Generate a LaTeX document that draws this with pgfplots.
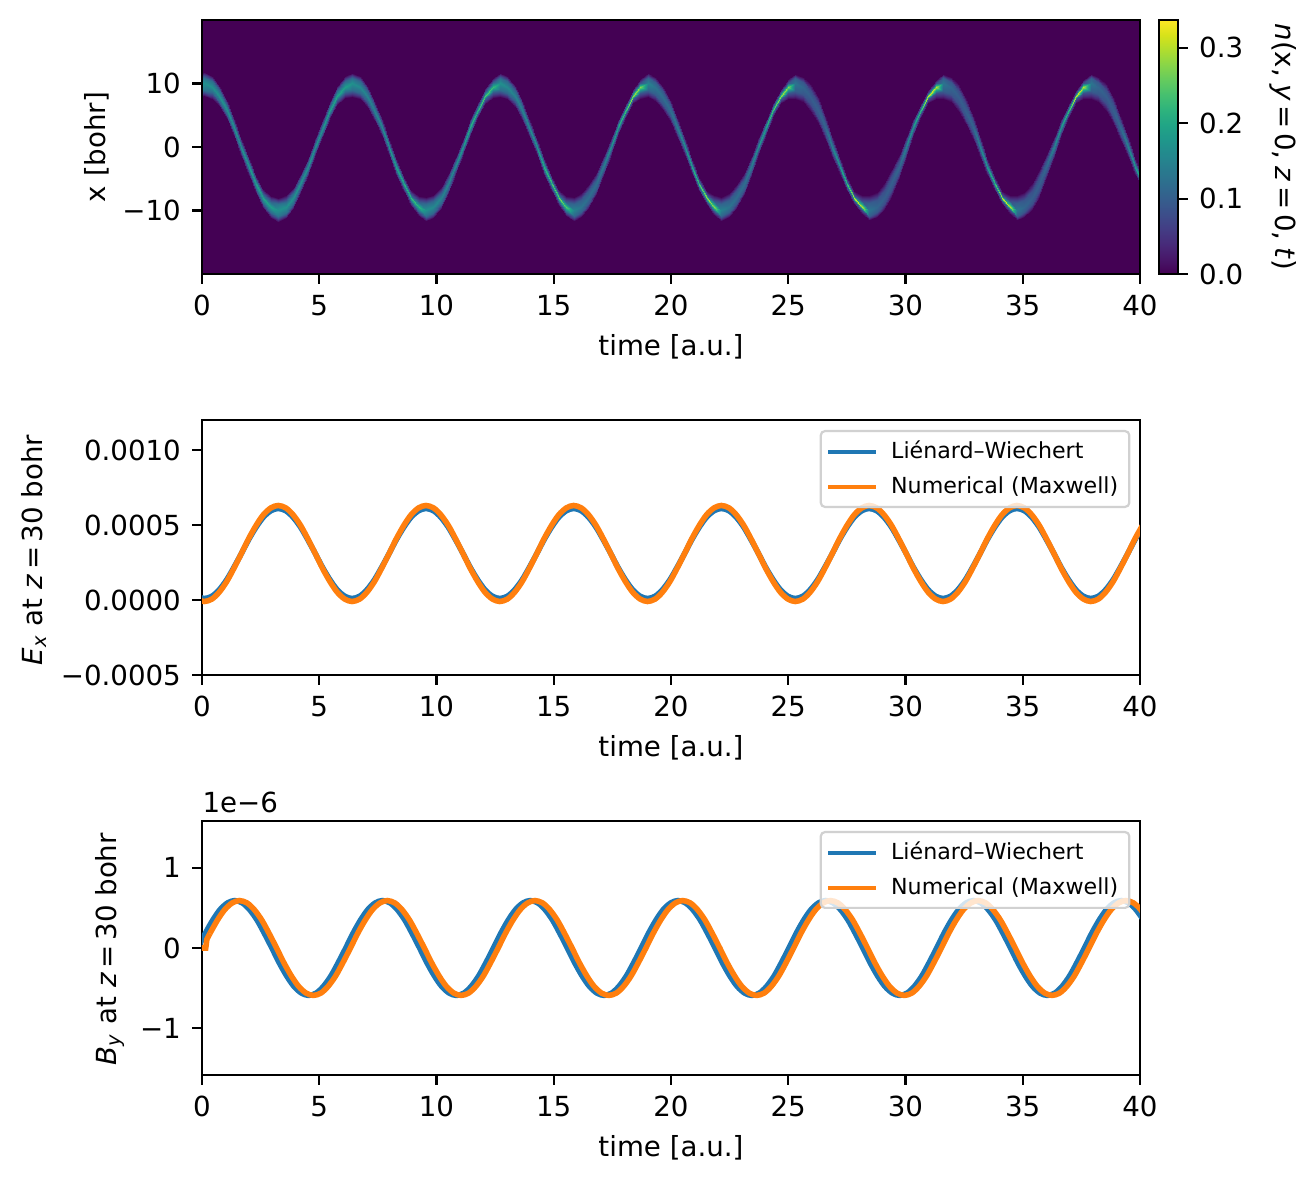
\documentclass[border=0pt]{standalone}
\usepackage{fontspec}
\setmainfont{DejaVu Sans}
\usepackage{pgfplots}
\usepackage{pgfplotstable}
\pgfplotsset{compat=1.18}
\definecolor{mplblue}{HTML}{1F77B4}
\definecolor{mplorange}{HTML}{FF7F0E}
\definecolor{vbg}{HTML}{440154}
\pgfplotsset{
  panel/.style={
    scale only axis, width=337.68bp, xmin=0, xmax=40,
    clip mode=individual,
    xtick={0,5,...,40},
    xticklabels={0,5,10,15,20,25,30,35,40},
    tick align=outside, xtick pos=bottom, ytick pos=left,
    major tick length=3.5bp,
    every tick/.style={black,line width=0.8bp},
    axis line style={line width=0.8bp},
    xlabel={time [a.u.]},
    scaled ticks=false,
    xticklabel style={yshift=-0.6bp},
    yticklabel style={xshift=-0.6bp},
  },
  mpl legend/.style={
    legend style={at={(0.98977,0.9608)},anchor=north east,
      font=\fontsize{8}{9.6}\selectfont,draw=black!18,fill=white,fill opacity=0.8,
      text opacity=1,rounded corners=1.5bp,line width=0.8bp,
      row sep=0.9bp,inner xsep=2bp,inner ysep=1.5bp},
    legend cell align=left,
    legend image code/.code={\draw[##1] (0cm,0cm) -- (0.6cm,0cm); \path (0.7cm,0cm);},
  },
}
% E_x at z=30, y in units of 1e-4
\pgfplotstableread{
t blue orange
-0.22 0.247 0.057
0.10 0.100 -0.100
0.42 0.247 0.057
0.73 0.673 0.511
1.05 1.337 1.219
1.36 2.173 2.111
1.68 3.100 3.100
1.99 4.027 4.089
2.31 4.863 4.981
2.62 5.527 5.689
2.94 5.953 6.143
3.25 6.100 6.300
3.57 5.953 6.143
3.88 5.527 5.689
4.20 4.863 4.981
4.51 4.027 4.089
4.83 3.100 3.100
5.14 2.173 2.111
5.46 1.337 1.219
5.77 0.673 0.511
6.09 0.247 0.057
6.40 0.100 -0.100
6.72 0.247 0.057
7.03 0.673 0.511
7.35 1.337 1.219
7.66 2.173 2.111
7.98 3.100 3.100
8.29 4.027 4.089
8.61 4.863 4.981
8.92 5.527 5.689
9.24 5.953 6.143
9.55 6.100 6.300
9.87 5.953 6.143
10.18 5.527 5.689
10.50 4.863 4.981
10.81 4.027 4.089
11.13 3.100 3.100
11.44 2.173 2.111
11.76 1.337 1.219
12.07 0.673 0.511
12.39 0.247 0.057
12.70 0.100 -0.100
13.02 0.247 0.057
13.33 0.673 0.511
13.65 1.337 1.219
13.96 2.173 2.111
14.28 3.100 3.100
14.59 4.027 4.089
14.91 4.863 4.981
15.22 5.527 5.689
15.54 5.953 6.143
15.85 6.100 6.300
16.17 5.953 6.143
16.48 5.527 5.689
16.80 4.863 4.981
17.11 4.027 4.089
17.43 3.100 3.100
17.74 2.173 2.111
18.06 1.337 1.219
18.37 0.673 0.511
18.69 0.247 0.057
19.00 0.100 -0.100
19.32 0.247 0.057
19.63 0.673 0.511
19.95 1.337 1.219
20.26 2.173 2.111
20.58 3.100 3.100
20.89 4.027 4.089
21.21 4.863 4.981
21.52 5.527 5.689
21.84 5.953 6.143
22.15 6.100 6.300
22.47 5.953 6.143
22.78 5.527 5.689
23.10 4.863 4.981
23.41 4.027 4.089
23.73 3.100 3.100
24.04 2.173 2.111
24.36 1.337 1.219
24.67 0.673 0.511
24.99 0.247 0.057
25.30 0.100 -0.100
25.62 0.247 0.057
25.93 0.673 0.511
26.25 1.337 1.219
26.56 2.173 2.111
26.88 3.100 3.100
27.19 4.027 4.089
27.51 4.863 4.981
27.82 5.527 5.689
28.14 5.953 6.143
28.45 6.100 6.300
28.77 5.953 6.143
29.08 5.527 5.689
29.40 4.863 4.981
29.71 4.027 4.089
30.03 3.100 3.100
30.34 2.173 2.111
30.66 1.337 1.219
30.97 0.673 0.511
31.29 0.247 0.057
31.60 0.100 -0.100
31.92 0.247 0.057
32.23 0.673 0.511
32.55 1.337 1.219
32.86 2.173 2.111
33.18 3.100 3.100
33.49 4.027 4.089
33.81 4.863 4.981
34.12 5.527 5.689
34.44 5.953 6.143
34.75 6.100 6.300
35.07 5.953 6.143
35.38 5.527 5.689
35.70 4.863 4.981
36.01 4.027 4.089
36.33 3.100 3.100
36.64 2.173 2.111
36.96 1.337 1.219
37.27 0.673 0.511
37.59 0.247 0.057
37.90 0.100 -0.100
38.22 0.247 0.057
38.53 0.673 0.511
38.85 1.337 1.219
39.16 2.173 2.111
39.48 3.100 3.100
39.79 4.027 4.089
40.11 4.863 4.981
}\extable
% B_y at z=30, y in units of 1e-6
\pgfplotstableread{
tb to v
-0.18 0.02 0.000
0.14 0.34 0.182
0.46 0.66 0.347
0.77 0.97 0.477
1.09 1.29 0.561
1.40 1.60 0.590
1.72 1.92 0.561
2.03 2.23 0.477
2.35 2.55 0.347
2.66 2.86 0.182
2.98 3.18 0.000
3.29 3.49 -0.182
3.61 3.81 -0.347
3.92 4.12 -0.477
4.24 4.44 -0.561
4.55 4.75 -0.590
4.87 5.07 -0.561
5.18 5.38 -0.477
5.50 5.70 -0.347
5.81 6.01 -0.182
6.13 6.33 0.000
6.44 6.64 0.182
6.76 6.96 0.347
7.07 7.27 0.477
7.39 7.59 0.561
7.70 7.90 0.590
8.02 8.22 0.561
8.33 8.53 0.477
8.65 8.85 0.347
8.96 9.16 0.182
9.28 9.48 0.000
9.59 9.79 -0.182
9.91 10.11 -0.347
10.22 10.42 -0.477
10.54 10.74 -0.561
10.85 11.05 -0.590
11.17 11.37 -0.561
11.48 11.68 -0.477
11.80 12.00 -0.347
12.11 12.31 -0.182
12.43 12.63 0.000
12.74 12.94 0.182
13.06 13.26 0.347
13.37 13.57 0.477
13.69 13.89 0.561
14.00 14.20 0.590
14.32 14.52 0.561
14.63 14.83 0.477
14.95 15.15 0.347
15.26 15.46 0.182
15.58 15.78 0.000
15.89 16.09 -0.182
16.21 16.41 -0.347
16.52 16.72 -0.477
16.84 17.04 -0.561
17.15 17.35 -0.590
17.47 17.67 -0.561
17.78 17.98 -0.477
18.10 18.30 -0.347
18.41 18.61 -0.182
18.73 18.93 0.000
19.04 19.24 0.182
19.36 19.56 0.347
19.67 19.87 0.477
19.99 20.19 0.561
20.30 20.50 0.590
20.62 20.82 0.561
20.93 21.13 0.477
21.25 21.45 0.347
21.56 21.76 0.182
21.88 22.08 0.000
22.19 22.39 -0.182
22.51 22.71 -0.347
22.82 23.02 -0.477
23.14 23.34 -0.561
23.45 23.65 -0.590
23.77 23.97 -0.561
24.08 24.28 -0.477
24.40 24.60 -0.347
24.71 24.91 -0.182
25.03 25.23 0.000
25.34 25.54 0.182
25.66 25.86 0.347
25.97 26.17 0.477
26.29 26.49 0.561
26.60 26.80 0.590
26.92 27.12 0.561
27.23 27.43 0.477
27.55 27.75 0.347
27.86 28.06 0.182
28.18 28.38 0.000
28.49 28.69 -0.182
28.81 29.01 -0.347
29.12 29.32 -0.477
29.44 29.64 -0.561
29.75 29.95 -0.590
30.07 30.27 -0.561
30.38 30.58 -0.477
30.70 30.90 -0.347
31.01 31.21 -0.182
31.33 31.53 0.000
31.64 31.84 0.182
31.96 32.16 0.347
32.27 32.47 0.477
32.59 32.79 0.561
32.90 33.10 0.590
33.22 33.42 0.561
33.53 33.73 0.477
33.85 34.05 0.347
34.16 34.36 0.182
34.48 34.68 0.000
34.79 34.99 -0.182
35.11 35.31 -0.347
35.42 35.62 -0.477
35.74 35.94 -0.561
36.05 36.25 -0.590
36.37 36.57 -0.561
36.68 36.88 -0.477
37.00 37.20 -0.347
37.31 37.51 -0.182
37.63 37.83 0.000
37.94 38.14 0.182
38.26 38.46 0.347
38.57 38.77 0.477
38.89 39.09 0.561
39.20 39.40 0.590
39.52 39.72 0.561
39.83 40.03 0.477
40.15 40.35 0.347
}\bytable
\begin{document}
\begin{tikzpicture}
\useasboundingbox (0,0) rectangle (473.76bp,425.52bp);

% density panel: the ridge is a strip of five samples across for each time
\begin{axis}[panel, at={(72.72bp,326.88bp)}, anchor=south west, height=91.44bp,
  ymin=-20, ymax=20, ytick={-10,0,10}, yticklabels={−10,0,10},
  axis on top, axis background/.style={fill=vbg},
  xlabel style={at={(axis description cs:0.5,-0.285)},anchor=center},
  ylabel={x [bohr]},
  ylabel style={at={(axis description cs:-0.1119,0.5)},anchor=center},
  colormap name=viridis, point meta min=0, point meta max=0.337,
  colorbar,
  colorbar style={at={(1.0203,1)},anchor=north west,width=6.84bp,height=91.44bp,
    ytick={0,0.1,0.2,0.3},yticklabels={0.0,0.1,0.2,0.3},
    ytick pos=right,yticklabel pos=right,xtick=\empty,
    major tick length=3.5bp,tick align=outside,
    every tick/.style={black,line width=0.8bp},
    axis line style={line width=0.8bp},
    yticklabel style={xshift=0.6bp}},
]
\addplot[surf,shader=interp,mesh/cols=5,point meta=\thisrow{m}] table[row sep=crcr] {
t x m\\
-0.22 7.7 0\\-0.22 8.6 0.11\\-0.22 9.5 0.19\\-0.22 10.4 0.11\\-0.22 11.2 0\\
0.1 8 0\\0.1 9 0.13\\0.1 10 0.17\\0.1 10.9 0.13\\0.1 11.8 0\\
0.42 7.6 0\\0.42 8.6 0.12\\0.42 9.5 0.17\\0.42 10.4 0.12\\0.42 11.2 0\\
0.73 6.4 0\\0.73 7.2 0.11\\0.73 8.1 0.17\\0.73 8.9 0.11\\0.73 9.7 0\\
1.05 4.4 0\\1.05 5.1 0.10\\1.05 5.9 0.17\\1.05 6.6 0.10\\1.05 7.4 0\\
1.36 1.7 0\\1.36 2.4 0.10\\1.36 3.1 0.17\\1.36 3.8 0.10\\1.36 4.5 0\\
1.68 -1.4 0\\1.68 -0.7 0.10\\1.68 0 0.17\\1.68 0.7 0.10\\1.68 1.4 0\\
1.99 -4.5 0\\1.99 -3.8 0.10\\1.99 -3.1 0.18\\1.99 -2.4 0.10\\1.99 -1.7 0\\
2.31 -7.3 0\\2.31 -6.6 0.10\\2.31 -5.9 0.19\\2.31 -5.2 0.10\\2.31 -4.5 0\\
2.62 -9.6 0\\2.62 -8.9 0.10\\2.62 -8.1 0.20\\2.62 -7.4 0.10\\2.62 -6.6 0\\
2.94 -11.2 0\\2.94 -10.4 0.11\\2.94 -9.5 0.19\\2.94 -8.6 0.11\\2.94 -7.7 0\\
3.25 -11.8 0\\3.25 -10.9 0.13\\3.25 -10 0.17\\3.25 -9 0.13\\3.25 -8 0\\
3.57 -11.2 0\\3.57 -10.4 0.12\\3.57 -9.5 0.17\\3.57 -8.6 0.12\\3.57 -7.6 0\\
3.88 -9.7 0\\3.88 -8.9 0.11\\3.88 -8.1 0.17\\3.88 -7.2 0.11\\3.88 -6.4 0\\
4.2 -7.4 0\\4.2 -6.6 0.10\\4.2 -5.9 0.17\\4.2 -5.1 0.10\\4.2 -4.4 0\\
4.51 -4.5 0\\4.51 -3.8 0.10\\4.51 -3.1 0.17\\4.51 -2.4 0.10\\4.51 -1.7 0\\
4.83 -1.4 0\\4.83 -0.7 0.10\\4.83 0 0.17\\4.83 0.7 0.10\\4.83 1.4 0\\
5.14 1.7 0\\5.14 2.4 0.10\\5.14 3.1 0.18\\5.14 3.8 0.10\\5.14 4.5 0\\
5.46 4.5 0\\5.46 5.2 0.10\\5.46 5.9 0.19\\5.46 6.6 0.10\\5.46 7.3 0\\
5.77 6.6 0\\5.77 7.4 0.10\\5.77 8.1 0.20\\5.77 8.9 0.10\\5.77 9.6 0\\
6.09 7.7 0\\6.09 8.6 0.11\\6.09 9.5 0.19\\6.09 10.4 0.11\\6.09 11.2 0\\
6.4 7.9 0\\6.4 9 0.12\\6.4 10 0.17\\6.4 10.9 0.12\\6.4 11.7 0\\
6.72 7.5 0\\6.72 8.5 0.11\\6.72 9.5 0.16\\6.72 10.4 0.11\\6.72 11.2 0\\
7.03 6.3 0\\7.03 7.2 0.10\\7.03 8.1 0.15\\7.03 8.9 0.10\\7.03 9.7 0\\
7.35 4.3 0\\7.35 5.1 0.09\\7.35 5.9 0.15\\7.35 6.7 0.09\\7.35 7.4 0\\
7.66 1.7 0\\7.66 2.4 0.09\\7.66 3.1 0.16\\7.66 3.8 0.09\\7.66 4.5 0\\
7.98 -1.3 0\\7.98 -0.7 0.09\\7.98 0 0.18\\7.98 0.7 0.09\\7.98 1.3 0\\
8.29 -4.4 0\\8.29 -3.8 0.10\\8.29 -3.1 0.19\\8.29 -2.4 0.10\\8.29 -1.8 0\\
8.61 -7.1 0\\8.61 -6.5 0.10\\8.61 -5.9 0.21\\8.61 -5.3 0.10\\8.61 -4.7 0\\
8.92 -9.3 0\\8.92 -8.7 0.10\\8.92 -8.1 0.23\\8.92 -7.5 0.10\\8.92 -6.8 0\\
9.24 -10.8 0\\9.24 -10.2 0.10\\9.24 -9.5 0.22\\9.24 -8.6 0.10\\9.24 -7.7 0\\
9.55 -11.7 0\\9.55 -10.9 0.12\\9.55 -10 0.17\\9.55 -9 0.12\\9.55 -7.9 0\\
9.87 -11.2 0\\9.87 -10.4 0.11\\9.87 -9.5 0.16\\9.87 -8.5 0.11\\9.87 -7.5 0\\
10.18 -9.7 0\\10.18 -8.9 0.10\\10.18 -8.1 0.15\\10.18 -7.2 0.10\\10.18 -6.3 0\\
10.5 -7.4 0\\10.5 -6.7 0.09\\10.5 -5.9 0.15\\10.5 -5.1 0.09\\10.5 -4.3 0\\
10.81 -4.5 0\\10.81 -3.8 0.09\\10.81 -3.1 0.16\\10.81 -2.4 0.09\\10.81 -1.7 0\\
11.13 -1.3 0\\11.13 -0.7 0.09\\11.13 0 0.18\\11.13 0.7 0.09\\11.13 1.3 0\\
11.44 1.8 0\\11.44 2.4 0.10\\11.44 3.1 0.21\\11.44 3.8 0.10\\11.44 4.4 0\\
11.76 4.7 0\\11.76 5.3 0.10\\11.76 5.9 0.22\\11.76 6.5 0.10\\11.76 7.1 0\\
12.07 6.8 0\\12.07 7.5 0.10\\12.07 8.1 0.25\\12.07 8.7 0.10\\12.07 9.3 0\\
12.39 7.7 0\\12.39 8.6 0.10\\12.39 9.5 0.23\\12.39 10.2 0.10\\12.39 10.8 0\\
12.7 7.9 0\\12.7 9 0.12\\12.7 10 0.17\\12.7 10.9 0.12\\12.7 11.7 0\\
13.02 7.5 0\\13.02 8.5 0.11\\13.02 9.5 0.16\\13.02 10.4 0.11\\13.02 11.2 0\\
13.33 6.3 0\\13.33 7.2 0.10\\13.33 8.1 0.15\\13.33 8.9 0.10\\13.33 9.7 0\\
13.65 4.3 0\\13.65 5.1 0.09\\13.65 5.9 0.15\\13.65 6.7 0.09\\13.65 7.4 0\\
13.96 1.7 0\\13.96 2.4 0.09\\13.96 3.1 0.16\\13.96 3.8 0.09\\13.96 4.5 0\\
14.28 -1.3 0\\14.28 -0.7 0.09\\14.28 0 0.18\\14.28 0.7 0.09\\14.28 1.3 0\\
14.59 -4.4 0\\14.59 -3.8 0.10\\14.59 -3.1 0.21\\14.59 -2.4 0.10\\14.59 -1.8 0\\
14.91 -7.1 0\\14.91 -6.5 0.10\\14.91 -5.9 0.24\\14.91 -5.3 0.10\\14.91 -4.7 0\\
15.22 -9.3 0\\15.22 -8.7 0.10\\15.22 -8.1 0.27\\15.22 -7.5 0.10\\15.22 -6.8 0\\
15.54 -10.8 0\\15.54 -10.2 0.10\\15.54 -9.5 0.25\\15.54 -8.6 0.10\\15.54 -7.7 0\\
15.85 -11.6 0\\15.85 -10.8 0.11\\15.85 -10 0.15\\15.85 -8.9 0.11\\15.85 -7.8 0\\
16.17 -11.1 0\\16.17 -10.3 0.10\\16.17 -9.5 0.13\\16.17 -8.4 0.10\\16.17 -7.3 0\\
16.48 -9.8 0\\16.48 -8.9 0.09\\16.48 -8.1 0.12\\16.48 -7 0.09\\16.48 -6 0\\
16.8 -7.6 0\\16.8 -6.7 0.09\\16.8 -5.9 0.12\\16.8 -5 0.09\\16.8 -4.1 0\\
17.11 -4.7 0\\17.11 -3.9 0.09\\17.11 -3.1 0.14\\17.11 -2.3 0.09\\17.11 -1.5 0\\
17.43 -1.4 0\\17.43 -0.7 0.09\\17.43 0 0.17\\17.43 0.7 0.09\\17.43 1.4 0\\
17.74 1.9 0\\17.74 2.5 0.09\\17.74 3.1 0.20\\17.74 3.7 0.09\\17.74 4.3 0\\
18.06 4.8 0\\18.06 5.3 0.09\\18.06 5.9 0.24\\18.06 6.4 0.09\\18.06 7 0\\
18.37 6.9 0\\18.37 7.5 0.09\\18.37 8.1 0.29\\18.37 8.6 0.09\\18.37 9.1 0\\
18.69 7.6 0\\18.69 8.5 0.09\\18.69 9.5 0.28\\18.69 10.1 0.09\\18.69 10.7 0\\
19 7.8 0\\19 8.9 0.11\\19 10 0.15\\19 10.8 0.11\\19 11.6 0\\
19.32 7.3 0\\19.32 8.4 0.10\\19.32 9.5 0.13\\19.32 10.3 0.10\\19.32 11.1 0\\
19.63 6 0\\19.63 7 0.09\\19.63 8.1 0.12\\19.63 8.9 0.09\\19.63 9.8 0\\
19.95 4.1 0\\19.95 5 0.09\\19.95 5.9 0.12\\19.95 6.7 0.09\\19.95 7.6 0\\
20.26 1.5 0\\20.26 2.3 0.09\\20.26 3.1 0.14\\20.26 3.9 0.09\\20.26 4.7 0\\
20.58 -1.4 0\\20.58 -0.7 0.09\\20.58 0 0.17\\20.58 0.7 0.09\\20.58 1.4 0\\
20.89 -4.3 0\\20.89 -3.7 0.09\\20.89 -3.1 0.20\\20.89 -2.5 0.09\\20.89 -1.9 0\\
21.21 -7 0\\21.21 -6.4 0.09\\21.21 -5.9 0.24\\21.21 -5.3 0.09\\21.21 -4.8 0\\
21.52 -9.1 0\\21.52 -8.6 0.09\\21.52 -8.1 0.29\\21.52 -7.5 0.09\\21.52 -6.9 0\\
21.84 -10.7 0\\21.84 -10.1 0.09\\21.84 -9.5 0.28\\21.84 -8.5 0.09\\21.84 -7.6 0\\
22.15 -11.6 0\\22.15 -10.8 0.11\\22.15 -10 0.15\\22.15 -8.9 0.11\\22.15 -7.8 0\\
22.47 -11.1 0\\22.47 -10.3 0.10\\22.47 -9.5 0.13\\22.47 -8.4 0.10\\22.47 -7.3 0\\
22.78 -9.8 0\\22.78 -8.9 0.09\\22.78 -8.1 0.12\\22.78 -7 0.09\\22.78 -6 0\\
23.1 -7.6 0\\23.1 -6.7 0.09\\23.1 -5.9 0.12\\23.1 -5 0.09\\23.1 -4.1 0\\
23.41 -4.7 0\\23.41 -3.9 0.09\\23.41 -3.1 0.14\\23.41 -2.3 0.09\\23.41 -1.5 0\\
23.73 -1.4 0\\23.73 -0.7 0.09\\23.73 0 0.17\\23.73 0.7 0.09\\23.73 1.4 0\\
24.04 1.9 0\\24.04 2.5 0.09\\24.04 3.1 0.20\\24.04 3.7 0.09\\24.04 4.3 0\\
24.36 4.8 0\\24.36 5.3 0.09\\24.36 5.9 0.24\\24.36 6.4 0.09\\24.36 7 0\\
24.67 6.9 0\\24.67 7.5 0.09\\24.67 8.1 0.29\\24.67 8.6 0.09\\24.67 9.1 0\\
24.99 7.6 0\\24.99 8.5 0.09\\24.99 9.5 0.28\\24.99 10.1 0.09\\24.99 10.7 0\\
25.3 7.6 0\\25.3 8.8 0.10\\25.3 10 0.13\\25.3 10.8 0.10\\25.3 11.5 0\\
25.62 7.1 0\\25.62 8.3 0.09\\25.62 9.5 0.11\\25.62 10.3 0.09\\25.62 11.1 0\\
25.93 5.7 0\\25.93 6.9 0.08\\25.93 8.1 0.10\\25.93 9 0.08\\25.93 10 0\\
26.25 3.7 0\\26.25 4.8 0.08\\26.25 5.9 0.10\\26.25 7 0.08\\26.25 8 0\\
26.56 1.2 0\\26.56 2.2 0.08\\26.56 3.1 0.11\\26.56 4.1 0.08\\26.56 5.1 0\\
26.88 -1.6 0\\26.88 -0.8 0.08\\26.88 0 0.15\\26.88 0.9 0.08\\26.88 1.7 0\\
27.19 -4.4 0\\27.19 -3.7 0.08\\27.19 -3.1 0.18\\27.19 -2.4 0.08\\27.19 -1.7 0\\
27.51 -7 0\\27.51 -6.4 0.08\\27.51 -5.9 0.23\\27.51 -5.3 0.08\\27.51 -4.8 0\\
27.82 -9 0\\27.82 -8.5 0.08\\27.82 -8.1 0.32\\27.82 -7.5 0.08\\27.82 -7 0\\
28.14 -10.5 0\\28.14 -10 0.08\\28.14 -9.5 0.31\\28.14 -8.5 0.08\\28.14 -7.5 0\\
28.45 -11.5 0\\28.45 -10.8 0.10\\28.45 -10 0.13\\28.45 -8.8 0.10\\28.45 -7.6 0\\
28.77 -11.1 0\\28.77 -10.3 0.09\\28.77 -9.5 0.11\\28.77 -8.3 0.09\\28.77 -7.1 0\\
29.08 -10 0\\29.08 -9 0.08\\29.08 -8.1 0.10\\29.08 -6.9 0.08\\29.08 -5.7 0\\
29.4 -8 0\\29.4 -7 0.08\\29.4 -5.9 0.10\\29.4 -4.8 0.08\\29.4 -3.7 0\\
29.71 -5.1 0\\29.71 -4.1 0.08\\29.71 -3.1 0.11\\29.71 -2.2 0.08\\29.71 -1.2 0\\
30.03 -1.7 0\\30.03 -0.9 0.08\\30.03 0 0.15\\30.03 0.8 0.08\\30.03 1.6 0\\
30.34 1.7 0\\30.34 2.4 0.08\\30.34 3.1 0.18\\30.34 3.7 0.08\\30.34 4.4 0\\
30.66 4.8 0\\30.66 5.3 0.08\\30.66 5.9 0.23\\30.66 6.4 0.08\\30.66 7 0\\
30.97 7 0\\30.97 7.5 0.08\\30.97 8.1 0.32\\30.97 8.5 0.08\\30.97 9 0\\
31.29 7.5 0\\31.29 8.5 0.08\\31.29 9.5 0.31\\31.29 10 0.08\\31.29 10.5 0\\
31.6 7.6 0\\31.6 8.8 0.10\\31.6 10 0.13\\31.6 10.8 0.10\\31.6 11.5 0\\
31.92 7.1 0\\31.92 8.3 0.09\\31.92 9.5 0.11\\31.92 10.3 0.09\\31.92 11.1 0\\
32.23 5.7 0\\32.23 6.9 0.08\\32.23 8.1 0.10\\32.23 9 0.08\\32.23 10 0\\
32.55 3.7 0\\32.55 4.8 0.08\\32.55 5.9 0.10\\32.55 7 0.08\\32.55 8 0\\
32.86 1.2 0\\32.86 2.2 0.08\\32.86 3.1 0.11\\32.86 4.1 0.08\\32.86 5.1 0\\
33.18 -1.6 0\\33.18 -0.8 0.08\\33.18 0 0.15\\33.18 0.9 0.08\\33.18 1.7 0\\
33.49 -4.4 0\\33.49 -3.7 0.08\\33.49 -3.1 0.18\\33.49 -2.4 0.08\\33.49 -1.7 0\\
33.81 -7 0\\33.81 -6.4 0.08\\33.81 -5.9 0.23\\33.81 -5.3 0.08\\33.81 -4.8 0\\
34.12 -9 0\\34.12 -8.5 0.08\\34.12 -8.1 0.32\\34.12 -7.5 0.08\\34.12 -7 0\\
34.44 -10.5 0\\34.44 -10 0.08\\34.44 -9.5 0.31\\34.44 -8.5 0.08\\34.44 -7.5 0\\
34.75 -11.5 0\\34.75 -10.8 0.10\\34.75 -10 0.13\\34.75 -8.8 0.10\\34.75 -7.6 0\\
35.07 -11.1 0\\35.07 -10.3 0.09\\35.07 -9.5 0.11\\35.07 -8.3 0.09\\35.07 -7.1 0\\
35.38 -10 0\\35.38 -9 0.08\\35.38 -8.1 0.10\\35.38 -6.9 0.08\\35.38 -5.7 0\\
35.7 -8 0\\35.7 -7 0.08\\35.7 -5.9 0.10\\35.7 -4.8 0.08\\35.7 -3.7 0\\
36.01 -5.1 0\\36.01 -4.1 0.08\\36.01 -3.1 0.11\\36.01 -2.2 0.08\\36.01 -1.2 0\\
36.33 -1.7 0\\36.33 -0.9 0.08\\36.33 0 0.15\\36.33 0.8 0.08\\36.33 1.6 0\\
36.64 1.7 0\\36.64 2.4 0.08\\36.64 3.1 0.18\\36.64 3.7 0.08\\36.64 4.4 0\\
36.96 4.8 0\\36.96 5.3 0.08\\36.96 5.9 0.23\\36.96 6.4 0.08\\36.96 7 0\\
37.27 7 0\\37.27 7.5 0.08\\37.27 8.1 0.32\\37.27 8.5 0.08\\37.27 9 0\\
37.59 7.5 0\\37.59 8.5 0.08\\37.59 9.5 0.31\\37.59 10 0.08\\37.59 10.5 0\\
37.9 7.6 0\\37.9 8.8 0.10\\37.9 10 0.13\\37.9 10.8 0.10\\37.9 11.5 0\\
38.22 7.1 0\\38.22 8.3 0.09\\38.22 9.5 0.11\\38.22 10.3 0.09\\38.22 11.1 0\\
38.53 5.7 0\\38.53 6.9 0.08\\38.53 8.1 0.10\\38.53 9 0.08\\38.53 10 0\\
38.85 3.7 0\\38.85 4.8 0.08\\38.85 5.9 0.10\\38.85 7 0.08\\38.85 8 0\\
39.16 1.2 0\\39.16 2.2 0.08\\39.16 3.1 0.11\\39.16 4.1 0.08\\39.16 5.1 0\\
39.48 -1.6 0\\39.48 -0.8 0.08\\39.48 0 0.15\\39.48 0.9 0.08\\39.48 1.7 0\\
39.79 -4.4 0\\39.79 -3.7 0.08\\39.79 -3.1 0.18\\39.79 -2.4 0.08\\39.79 -1.7 0\\
40.11 -7 0\\40.11 -6.4 0.08\\40.11 -5.9 0.23\\40.11 -5.3 0.08\\40.11 -4.8 0\\
};
\node[anchor=center,rotate=-90] at (axis description cs:1.1525,0.5) {\textit{n}(x,\hspace{2.6bp}\textit{y}\,=\,0,\hspace{2.6bp}\textit{z}\,=\,0,\hspace{2.6bp}\textit{t})};
\end{axis}

% E_x
\begin{axis}[panel, mpl legend, at={(72.72bp,182.52bp)}, anchor=south west, height=91.8bp,
  ymin=-5, ymax=12, ytick={-5,0,5,10},
  yticklabels={−0.0005,0.0000,0.0005,0.0010},
  xlabel style={at={(axis description cs:0.5,-0.285)},anchor=center},
  ylabel={\textit{E}\textsubscript{\textit{x}} at \textit{z}\,=\,30 bohr},
  ylabel style={at={(axis description cs:-0.179,0.49)},anchor=center},
]
\addplot[forget plot,color=mplblue,line width=2bp,smooth] table[x=t,y=blue] {\extable};
\addplot[forget plot,color=mplorange,line width=2bp,smooth] table[x=t,y=orange] {\extable};
\addlegendimage{color=mplblue,line width=1.5bp}
\addlegendentry{Liénard–Wiechert}
\addlegendimage{color=mplorange,line width=1.5bp}
\addlegendentry{Numerical (Maxwell)}
\end{axis}

% B_y
\begin{axis}[panel, mpl legend, at={(72.72bp,38.52bp)}, anchor=south west, height=91.44bp,
  ymin=-1.58, ymax=1.58, ytick={-1,0,1}, yticklabels={−1,0,1},
  xlabel style={at={(axis description cs:0.5,-0.285)},anchor=center},
  ylabel={\textit{B}\textsubscript{\textit{y}} at \textit{z}\,=\,30 bohr},
  ylabel style={at={(axis description cs:-0.0985,0.495)},anchor=center},
]
\addplot[forget plot,color=mplblue,line width=2bp,smooth] table[x=tb,y=v] {\bytable};
\addplot[forget plot,color=mplorange,line width=2bp] coordinates {(0,0) (0.16,0) (0.21,0.11) (0.34,0.182)};
\addplot[forget plot,color=mplorange,line width=2bp,smooth,skip coords between index={0}{1}] table[x=to,y=v] {\bytable};
\addlegendimage{color=mplblue,line width=1.5bp}
\addlegendentry{Liénard–Wiechert}
\addlegendimage{color=mplorange,line width=1.5bp}
\addlegendentry{Numerical (Maxwell)}
\node[anchor=south west,inner sep=0pt] at (axis description cs:0,1.03) {1e−6};
\end{axis}
\end{tikzpicture}
\end{document}
